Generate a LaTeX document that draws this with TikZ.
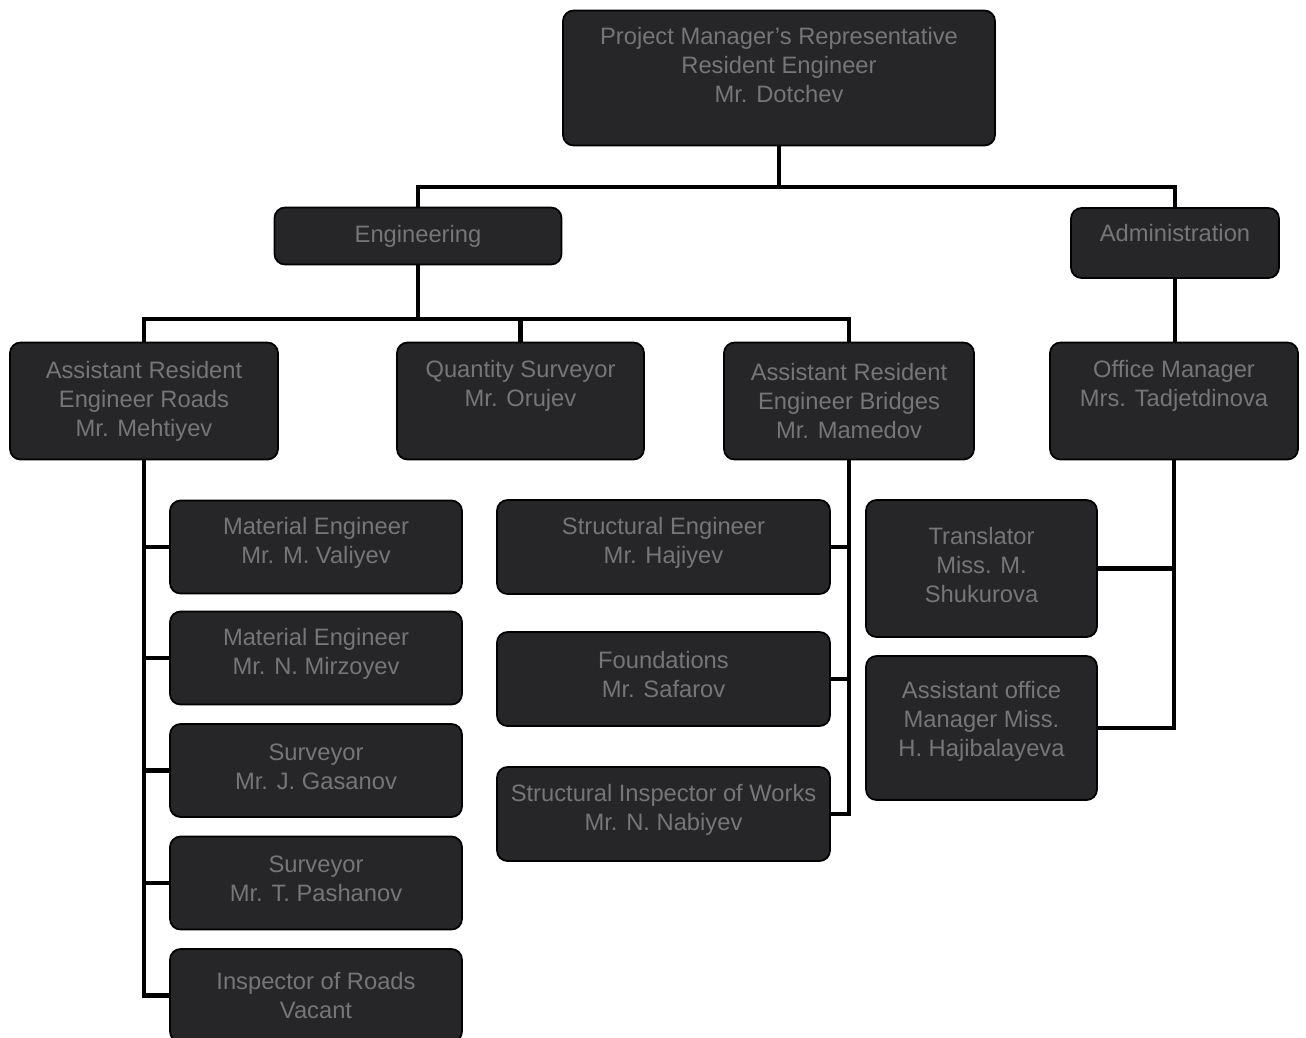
\documentclass[tikz,border=0pt]{standalone}
\usepackage{fontspec}
\setmainfont{Liberation Sans}
\definecolor{boxfill}{RGB}{38,38,40}
\definecolor{boxtext}{RGB}{118,118,120}
\newcommand{\lift}[1]{\\[#1]\mbox{}}
\begin{document}
\begin{tikzpicture}
  \tikzset{post/.style={draw=black, line width=1pt, fill=boxfill, text=boxtext, rounded corners=6pt,
      inner sep=0pt, outer sep=0pt, align=center, font=\fontsize{13.5}{16.5}\selectfont},
    link/.style={line width=2.4pt, black}}
\useasboundingbox (0,0) rectangle (26.12,-20.74);
\node[post, minimum width=8.64cm, minimum height=2.70cm] (top) at (15.58,-1.56) {Project Manager's Representative\\Resident Engineer\\Mr. Dotchev\lift{-2pt}};
\node[post, minimum width=5.74cm, minimum height=1.14cm] (eng) at (8.36,-4.72) {Engineering};
\node[post, minimum width=4.16cm, minimum height=1.40cm] (adm) at (23.50,-4.86) {Administration\lift{-5pt}};
\node[post, minimum width=5.36cm, minimum height=2.34cm] (roads) at (2.88,-8.02) {Assistant Resident\\Engineer Roads\\Mr. Mehtiyev};
\node[post, minimum width=4.94cm, minimum height=2.34cm] (qs) at (10.41,-8.02) {Quantity Surveyor\\Mr. Orujev\lift{3.5pt}};
\node[post, minimum width=5.00cm, minimum height=2.34cm] (bridges) at (16.98,-8.02) {Assistant Resident\\Engineer Bridges\\Mr. Mamedov};
\node[post, minimum width=4.96cm, minimum height=2.34cm] (office) at (23.48,-8.02) {Office Manager\\Mrs. Tadjetdinova\lift{3.5pt}};
% road staff
\node[post, minimum width=5.84cm, minimum height=1.86cm] (mat1) at (6.32,-10.94) {Material Engineer\\Mr. M. Valiyev\lift{-9pt}};
\node[post, minimum width=5.84cm, minimum height=1.86cm] (mat2) at (6.32,-13.16) {Material Engineer\\Mr. N. Mirzoyev\lift{-9pt}};
\node[post, minimum width=5.84cm, minimum height=1.86cm] (sur1) at (6.32,-15.41) {Surveyor\\Mr. J. Gasanov\lift{-12pt}};
\node[post, minimum width=5.84cm, minimum height=1.86cm] (sur2) at (6.32,-17.66) {Surveyor\\Mr. T. Pashanov\lift{-12pt}};
\node[post, minimum width=5.84cm, minimum height=1.86cm] (insp) at (6.32,-19.91) {Inspector of Roads\\Vacant};
% bridge staff
\node[post, minimum width=6.66cm, minimum height=1.88cm] (seng) at (13.27,-10.94) {Structural Engineer\\Mr. Hajiyev\lift{-9pt}};
\node[post, minimum width=6.66cm, minimum height=1.88cm] (found) at (13.27,-13.58) {Foundations\\Mr. Safarov\lift{-11pt}};
\node[post, minimum width=6.66cm, minimum height=1.88cm] (sinsp) at (13.27,-16.28) {Structural Inspector of Works\\Mr. N. Nabiyev\lift{-9pt}};
% office staff
\node[post, minimum width=4.62cm, minimum height=2.74cm] (trans) at (19.63,-11.37) {Translator\\Miss. M.\\Shukurova\lift{-12pt}};
\node[post, minimum width=4.62cm, minimum height=2.88cm] (asst) at (19.63,-14.56) {Assistant office\\Manager Miss.\\H. Hajibalayeva\lift{-6pt}};
\coordinate (j1) at (15.58,-3.74);
\coordinate (j2) at (8.36,-6.38);
\draw[link] (top) -- (j1); \draw[link] (eng.north) |- (j1) -| (adm.north);
\draw[link] (eng) -- (j2); \draw[link] (roads.north) |- (j2) -| (bridges.north);
\draw[link] (qs.north) -- (qs.north |- j2);
\draw[link] (adm) -- (adm |- office.north);
\draw[link] (roads.south) |- (insp.west);
\foreach \n in {mat1,mat2,sur1,sur2} \draw[link] (roads.south |- \n.west) -- (\n.west);
\draw[link] (bridges.south) |- (sinsp.east);
\foreach \n in {seng,found} \draw[link] (bridges.south |- \n.east) -- (\n.east);
\draw[link] (office.south) |- (asst.east); \draw[link] (office.south |- trans.east) -- (trans.east);
\end{tikzpicture}
\end{document}
